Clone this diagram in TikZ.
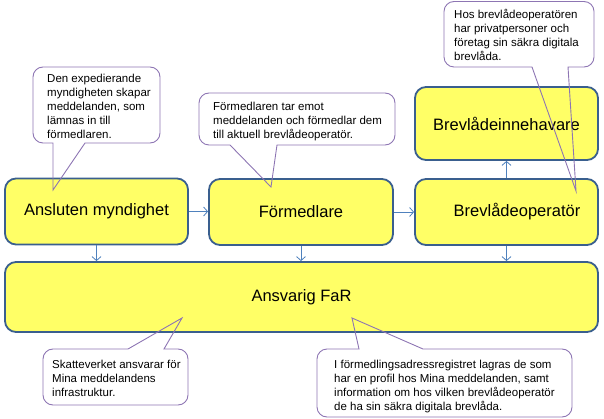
\documentclass[tikz,border=0pt]{standalone}
\usepackage{fontspec}
\setmainfont{Liberation Sans}
\usetikzlibrary{arrows.meta}
\definecolor{boxfill}{HTML}{FFFF66}
\definecolor{boxline}{HTML}{3A5F8E}
\definecolor{arr}{HTML}{4F81BD}
\definecolor{callline}{HTML}{8D75B3}
\begin{document}
\begin{tikzpicture}[x=1pt,y=-1pt,
  box/.style={draw=boxline, line width=1.8pt, fill=boxfill, rounded corners=11pt, font=\fontsize{16.5}{20}\selectfont, inner sep=0pt},
  flow/.style={draw=arr, line width=0.8pt, -{Straight Barb[length=4pt,width=9pt]}},
  callout/.style={draw=callline, line width=0.9pt},
  ctext/.style={font=\fontsize{11.5}{14}\selectfont, align=left, inner sep=0pt, anchor=north west}]
\useasboundingbox (0,0) rectangle (604,419);

\node[box, minimum width=183pt, minimum height=66pt] (am) at (96.5,211.5) {Ansluten myndighet};
\node[box, minimum width=184pt, minimum height=66pt] (fm) at (301,212) {Förmedlare};
\node[box, minimum width=183pt, minimum height=66pt] (bo) at (506.5,212) {\hspace*{21pt}Brevlådeoperatör};
\node[box, minimum width=183pt, minimum height=73pt] (bi) at (506.5,123.5) {Brevlådeinnehavare};
\node[box, minimum width=593pt, minimum height=70pt] (far) at (301.5,297) {Ansvarig FaR};

\draw[flow] (am.east) -- (am.east -| fm.west);
\draw[flow] (fm.east) -- (fm.east -| bo.west);
\draw[flow] (bo.north) -- (bi.south);
\draw[flow] (am.south) -- (am.south |- far.north);
\draw[flow] (fm.south) -- (fm.south |- far.north);
\draw[flow] (bo.south) -- (bo.south |- far.north);

\coordinate (t1) at (53,190);
\coordinate (t2) at (271,187);
\coordinate (t3) at (576,191);
\coordinate (t4) at (182,318);
\coordinate (t5) at (352,318);

\draw[callout] (85,143) [rounded corners=10pt] -- (160,143) -- (160,67) -- (33,67) -- (33,143) [sharp corners] -- (53,143) -- (t1) -- cycle;
\draw[callout] (277,145) [rounded corners=10pt] -- (395,145) -- (395,93) -- (199,93) -- (199,145) [sharp corners] -- (230,145) -- (t2) -- cycle;
\draw[callout] (568,67) [rounded corners=10pt] -- (594,67) -- (594,1.5) -- (444,1.5) -- (444,67) [sharp corners] -- (532,67) -- (t3) -- cycle;
\draw[callout] (164,349) [rounded corners=10pt] -- (188,349) -- (188,405) -- (43,405) -- (43,349) [sharp corners] -- (128,349) -- (t4) -- cycle;
\draw[callout] (423,349) [rounded corners=10pt] -- (572,349) -- (572,417) -- (317,417) -- (317,349) [sharp corners] -- (359,349) -- (t5) -- cycle;

\node[ctext] (c1) at (47,74) {Den expedierande\\myndigheten skapar\\meddelanden, som\\lämnas in till\\förmedlaren.};
\node[ctext] (c2) at (213,101.5) {Förmedlaren tar emot\\meddelanden och förmedlar dem\\till aktuell brevlådeoperatör.};
\node[ctext] (c3) at (454,9.5) {Hos brevlådeoperatören\\har privatpersoner och\\företag sin säkra digitala\\brevlåda.};
\node[ctext] (c4) at (52,359.5) {Skatteverket ansvarar för\\Mina meddelandens\\infrastruktur.};
\node[ctext] (c5) at (334,359.5) {I förmedlingsadressregistret lagras de som\\har en profil hos Mina meddelanden, samt\\information om hos vilken brevlådeoperatör\\de ha sin säkra digitala brevlåda.};
\end{tikzpicture}
\end{document}
